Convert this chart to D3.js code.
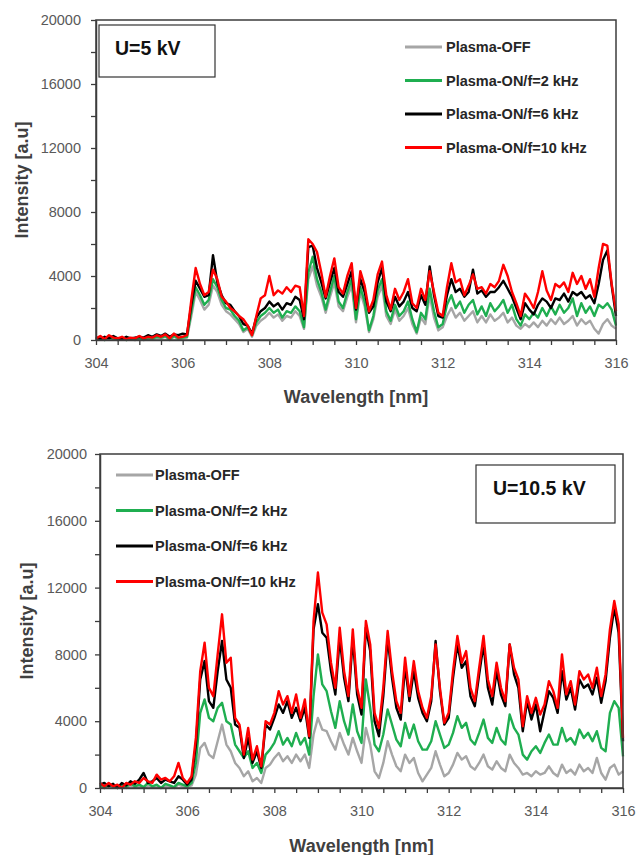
<!DOCTYPE html>
<html>
<head>
<meta charset="utf-8">
<script src="https://cdn.jsdelivr.net/npm/d3@7"></script>
<style>
  body { margin: 0; background: #fff; }
  svg { display: block; font-family: "Liberation Sans", Arial, sans-serif; }
</style>
</head>
<body>
<div id="chart"></div>
<script>
// series names / colours (same for both panels)
const seriesNames = ["Plasma-OFF", "Plasma-ON/f=2 kHz", "Plasma-ON/f=6 kHz", "Plasma-ON/f=10 kHz"];
const seriesColors = ["#a6a6a6", "#1fae50", "#000000", "#ff0000"];

// wavelength grid: 304.0 .. 316.0 nm every 0.1 nm
const wlStart = 304, wlStep = 0.1;
const xLabelTicks = [304, 306, 308, 310, 312, 314, 316];
const yLabelTicks = [0, 4000, 8000, 12000, 16000, 20000];

// ---- U = 5 kV ----
const offTop = [
  50, 100, 0, 150, 50, 0, 100, 0, 50, 0,
  100, 0, 100, 50, 150, 100, 200, 0, 200, 50,
  100, 150, 1500, 3000, 2500, 1900, 2200, 3400, 3000, 2200,
  1800, 1600, 1300, 1000, 500, 700, 200, 900, 1200, 1400,
  1700, 1400, 1600, 1200, 1500, 1400, 1800, 1500, 700, 3800,
  4600, 3400, 2700, 1700, 2700, 3600, 2100, 1800, 2700, 3400,
  1100, 3000, 2100, 500, 1300, 2700, 3400, 1500, 1000, 1900,
  1200, 1500, 2000, 1000, 400, 1400, 1000, 2800, 1400, 600,
  800, 1500, 2000, 1400, 1700, 1200, 1500, 1800, 1100, 1500,
  1100, 1600, 1200, 1400, 1700, 1100, 1400, 900, 700, 1000,
  800, 1100, 800, 1200, 900, 1300, 1000, 1400, 1000, 1200,
  1500, 900, 1300, 1000, 1200, 700, 400, 1000, 1300, 900,
  700
];
const on2Top = [
  100, 150, 0, 200, 100, 50, 150, 0, 100, 50,
  150, 50, 100, 100, 200, 150, 250, 50, 250, 100,
  150, 200, 1800, 3300, 2800, 2200, 2500, 3800, 3300, 2500,
  2000, 1900, 1500, 1200, 600, 800, 300, 1100, 1500, 1700,
  2000, 1700, 1900, 1400, 1800, 1700, 2100, 1800, 800, 4200,
  5200, 3800, 3000, 1900, 3000, 4000, 2400, 2000, 3000, 3800,
  1300, 3300, 2400, 600, 1500, 3100, 3800, 1800, 1200, 2200,
  1500, 1800, 2400, 1300, 500, 1700, 1300, 3200, 1800, 800,
  1000, 2200, 2800, 2000, 2400, 1700, 2200, 2500, 1600, 2100,
  1500, 2300, 1800, 2100, 2500, 1700, 2200, 1300, 900, 1600,
  1300, 1700, 1400, 2000, 1500, 2100, 1600, 2200, 1700, 2000,
  2600, 1500, 2300, 1700, 2100, 1500, 2200, 2000, 2300, 1900,
  900
];
const on6Top = [
  150, 50, 200, 100, 250, 100, 50, 200, 100, 150,
  200, 150, 300, 200, 350, 250, 400, 200, 350, 300,
  400, 350, 2200, 3700, 3200, 2700, 2800, 5300, 3600, 2800,
  2300, 2200, 1800, 1500, 1000, 900, 400, 1400, 1800, 2000,
  2400, 2100, 2300, 1900, 2300, 2200, 2700, 2500, 1300, 5800,
  5900, 4500, 3600, 2600, 3600, 4500, 3000, 2700, 3500, 4300,
  1900, 3800, 3000, 1700, 2100, 3600, 4500, 2400, 1800, 2700,
  2100, 2400, 3000, 2000, 1800, 2800, 2200, 4600, 2800, 1500,
  1400, 2800, 3800, 3000, 3200, 2700, 3000, 4400, 2900, 3100,
  2700, 3000, 3000, 3300, 3700, 3200, 2700, 2000, 1300, 2300,
  1900, 1600, 2200, 2600, 2400, 2000, 2600, 2500, 2900, 2400,
  3000, 2800, 3000, 2600, 2800, 2300, 3500, 5000, 5600, 3400,
  1500
];
const on10Top = [
  100, 250, 50, 300, 150, 100, 200, 50, 150, 100,
  250, 100, 200, 150, 300, 200, 350, 100, 400, 150,
  200, 300, 2500, 4500, 3500, 2800, 3000, 4400, 3800, 2700,
  2400, 2000, 1800, 1500, 1300, 900, 300, 1500, 2600, 2800,
  4000, 2800, 3100, 2900, 3300, 3000, 3400, 3300, 1500, 6300,
  6000, 5500, 4200, 2700, 4000, 5100, 3300, 2900, 4000, 4800,
  2000, 4300, 3400, 1800, 2500, 4100, 4900, 2800, 1900, 3200,
  2500, 3000, 3800, 2300, 2000, 3200, 2500, 4300, 3000, 1700,
  1500, 3300, 4800, 3600, 3800, 2800, 3400, 4100, 3200, 3300,
  2900, 3500, 3300, 3700, 4700, 4000, 3000, 2300, 1500, 2900,
  2500, 2000, 3000, 4300, 3100, 2500, 3500, 3300, 3600, 3000,
  4200, 3500, 4000, 3200, 3800, 2700, 4500, 6000, 5900, 3500,
  1800
];

// ---- U = 10.5 kV ----
const offBottom = [
  100, 0, 150, 50, 0, 100, 0, 150, 50, 100,
  0, 150, 50, 100, 0, 150, 100, 0, 200, 100,
  50, 150, 800, 2400, 2700, 2000, 1800, 2800, 3800, 2600,
  2200, 1500, 1200, 700, 1000, 400, 600, 300, 1200, 1400,
  1800, 2100, 1600, 1900, 1500, 2000, 1600, 2000, 1200, 3200,
  4200, 3500, 3400, 2800, 2300, 3300, 2600, 2000, 3000, 2200,
  1500, 3600, 2600, 1000, 600, 1500, 2800, 2000, 1300, 1000,
  2000, 1500, 1800, 900, 400, 800, 1200, 2200, 1400, 700,
  900, 1400, 2100, 1700, 1900, 1300, 1100, 1500, 2000, 1300,
  1100, 1600, 1200, 1000, 2000, 1500, 1200, 800, 900, 700,
  1000, 800, 900, 1300, 900, 700, 1400, 900, 1100, 800,
  1400, 1000, 1200, 900, 1800, 900, 500, 1200, 1400, 800,
  1000
];
const on2Bottom = [
  200, 0, 250, 100, 0, 200, 50, 300, 100, 200,
  50, 300, 100, 200, 0, 250, 150, 50, 300, 200,
  100, 300, 1500, 4500, 5300, 4200, 4000, 4800, 5100, 4000,
  3800, 2600, 2200, 1800, 2200, 1200, 1500, 900, 2000, 2300,
  2700, 3400, 2600, 3000, 2500, 3300, 2600, 3000, 2000, 5500,
  8000, 6200, 5800, 4600, 3600, 5200, 4000, 3200, 5000, 3400,
  2700, 6500, 4800, 2600, 2200, 3200, 4700, 3800, 2900, 2500,
  3900, 3000, 3800, 2800, 2300, 2300, 2800, 4000, 3200, 2400,
  2600, 3300, 4300, 3600, 3900, 2900, 2600, 3300, 4100, 3000,
  2700, 3600, 2900, 2600, 4400, 3600, 3200, 2000, 1700, 2200,
  2500, 2100, 2700, 3200, 2600, 2600, 3600, 2800, 3000, 2600,
  3500, 3000, 3300, 2800, 3400, 2400, 2200, 4500, 5200, 4800,
  1900
];
const on6Bottom = [
  200, 300, 100, 250, 0, 300, 150, 400, 250, 500,
  900, 300, 400, 600, 300, 500, 400, 300, 700, 500,
  200, 500, 2600, 6500, 7600, 5200, 4800, 7000, 8800, 6500,
  6000, 3800, 3600, 1800, 3000, 1500, 2200, 1200, 3800, 3500,
  4200, 5000, 4500, 5200, 4200, 4800, 4000, 4800, 3000, 9500,
  11000, 9300, 9000, 7000, 5600, 9000, 6600, 5200, 9000, 5600,
  4400, 9600, 8200, 4000, 3100, 5500, 9000, 6600, 4800, 4100,
  7300, 5200, 7000, 5400, 4500, 4000, 5200, 8800, 5800, 3800,
  4200, 6600, 8600, 7200, 7600, 5500, 4900, 6800, 8600, 6000,
  5000, 7000, 5600, 4900, 8600, 6800, 6000, 3400, 5200, 4100,
  5000, 3400, 4600, 5800, 5400, 4500, 7000, 5300, 6000, 4700,
  6500, 6000, 6200, 5600, 6600, 5100, 6400, 9000, 10800, 9300,
  2800
];
const on10Bottom = [
  300, 100, 300, 100, 200, 0, 300, 200, 400, 300,
  600, 400, 300, 800, 500, 600, 400, 700, 1500, 600,
  300, 700, 3000, 7000, 8700, 6000, 5500, 8000, 10400, 7500,
  7800, 4200, 3800, 2000, 3600, 1700, 2500, 1300, 4000, 3800,
  4500, 5800, 5000, 5500, 4500, 5600, 4200, 5300, 3100, 10000,
  12900, 10500, 9800, 7500, 6000, 9600, 7000, 5500, 9500, 6000,
  4800, 10000, 8600, 4500, 3600, 6000, 9400, 7000, 5200, 4500,
  7800, 5500, 7600, 5800, 4800, 4200, 5500, 8600, 6000, 3900,
  4500, 7000, 9100, 7500, 8200, 6000, 5200, 7200, 9100, 6500,
  5500, 7500, 6000, 5200, 8600, 7200, 6500, 3700, 5500, 4500,
  5400, 4400, 5000, 6400, 5800, 4800, 8000, 5600, 6400, 5000,
  7000, 6500, 6800, 6000, 7200, 5500, 6800, 9500, 11200, 9800,
  3000
];

const panels = [
  {
    left: 96, right: 616, top: 20, bottom: 340,
    series: [offTop, on2Top, on6Top, on10Top],
    titleY: 397,
    yTitleX: 22,
    labelBox: { x: 99, y: 25, w: 116, h: 52, text: "U=5 kV", tx: 115, ty: 55 },
    legend: { x1: 405, x2: 442, tx: 446, y0: 47, dy: 33.5 }
  },
  {
    left: 100, right: 623, top: 454, bottom: 788,
    series: [offBottom, on2Bottom, on6Bottom, on10Bottom],
    titleY: 846,
    yTitleX: 27,
    labelBox: { x: 476, y: 465, w: 139, h: 58, text: "U=10.5 kV", tx: 493, ty: 495 },
    legend: { x1: 116, x2: 153, tx: 155, y0: 475, dy: 35.5 }
  }
];

const svg = d3.select("#chart").append("svg")
  .attr("width", 636)
  .attr("height", 855);

panels.forEach(p => drawPanel(p));

function drawPanel(p) {
  const x = d3.scaleLinear().domain([304, 316]).range([p.left, p.right]);
  const y = d3.scaleLinear().domain([0, 20000]).range([p.bottom, p.top]);
  const g = svg.append("g");

  const line = d3.line()
    .x((d, i) => x(wlStart + i * wlStep))
    .y(d => y(d));

  p.series.forEach((values, k) => {
    g.append("path")
      .datum(values)
      .attr("d", line)
      .attr("fill", "none")
      .attr("stroke", seriesColors[k])
      .attr("stroke-width", 2.4)
      .attr("stroke-linejoin", "round");
  });

  // frame (top + right)
  g.append("rect")
    .attr("x", p.left).attr("y", p.top)
    .attr("width", p.right - p.left).attr("height", p.bottom - p.top)
    .attr("fill", "none")
    .attr("stroke", "#3c3c3c")
    .attr("stroke-width", 1.5);

  const xAxis = d3.axisBottom(x)
    .tickValues(d3.range(304, 316.01, 0.5))
    .tickSize(5)
    .tickSizeOuter(0)
    .tickPadding(13)
    .tickFormat(d => xLabelTicks.includes(d) ? d : "");

  const yAxis = d3.axisLeft(y)
    .tickValues(d3.range(0, 20001, 2000))
    .tickSize(5)
    .tickSizeOuter(0)
    .tickPadding(p.left === 96 ? 10 : 8)
    .tickFormat(d => yLabelTicks.includes(d) ? d : "");

  [g.append("g").attr("transform", `translate(0,${p.bottom})`).call(xAxis),
   g.append("g").attr("transform", `translate(${p.left},0)`).call(yAxis)]
    .forEach(a => {
      a.select(".domain").attr("stroke", "#3c3c3c").attr("stroke-width", 1.5);
      a.selectAll(".tick line").attr("stroke", "#3c3c3c").attr("stroke-width", 1.3);
      a.selectAll(".tick text")
        .attr("fill", "#595959")
        .style("font-size", "14.5px")
        .style("font-family", "'Liberation Sans', Arial, sans-serif");
    });

  // axis titles
  g.append("text")
    .attr("x", (p.left + p.right) / 2)
    .attr("y", p.titleY)
    .attr("text-anchor", "middle")
    .attr("dy", "0.35em")
    .attr("fill", "#404040")
    .style("font-size", "18px")
    .style("font-weight", "bold")
    .text("Wavelength [nm]");

  g.append("text")
    .attr("transform", `translate(${p.yTitleX},${(p.top + p.bottom) / 2}) rotate(-90)`)
    .attr("text-anchor", "middle")
    .attr("dy", "0.35em")
    .attr("fill", "#404040")
    .style("font-size", "18px")
    .style("font-weight", "bold")
    .text("Intensity [a.u]");

  // voltage box
  const b = p.labelBox;
  g.append("rect")
    .attr("x", b.x).attr("y", b.y)
    .attr("width", b.w).attr("height", b.h)
    .attr("fill", "#fff")
    .attr("stroke", "#333")
    .attr("stroke-width", 1.2);
  g.append("text")
    .attr("x", b.tx).attr("y", b.ty)
    .attr("fill", "#111")
    .style("font-size", "19.5px")
    .style("font-weight", "bold")
    .text(b.text);

  // legend
  const L = p.legend;
  seriesNames.forEach((name, k) => {
    const ly = L.y0 + k * L.dy;
    g.append("line")
      .attr("x1", L.x1).attr("x2", L.x2)
      .attr("y1", ly).attr("y2", ly)
      .attr("stroke", seriesColors[k])
      .attr("stroke-width", 3);
    g.append("text")
      .attr("x", L.tx).attr("y", ly)
      .attr("dy", "0.35em")
      .attr("fill", "#262626")
      .style("font-size", "14.5px")
      .style("font-weight", "bold")
      .text(name);
  });
}
</script>
</body>
</html>
